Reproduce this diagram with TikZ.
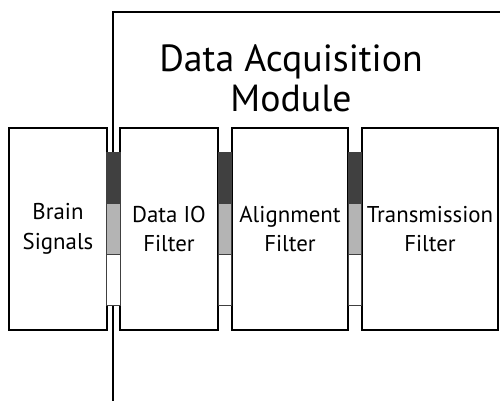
\documentclass[tikz,border=0pt]{standalone}
\usepackage{fontspec}
\setmainfont{PT Sans}
\usetikzlibrary{positioning,calc}
\definecolor{portdark}{HTML}{404040}
\definecolor{portlight}{HTML}{B4B4B4}
\tikzset{
    filterbox/.style={draw,line width=1.1pt,minimum height=4.04cm,align=center,inner sep=0pt,font=\fontsize{13}{17}\selectfont},
    port/.style={draw=black!75,line width=0.6pt,minimum width=0.27cm,minimum height=1.02cm,inner sep=0pt},
    title/.style={align=center,font=\fontsize{21.5}{22.7}\selectfont}
}

\begin{document}
\begin{tikzpicture}[x=0.02cm,y=-0.02cm]
    \useasboundingbox (0,0) rectangle (500,401);
    % module frame
    \coordinate (modbot) at (113,401);
    \coordinate (modtop) at (113,12);
    \coordinate (modright) at (500,12);
    \draw[line width=1.1pt] (modbot) -- (modtop) -- (modright);
    \node[title] (modlabel) at (291,78) {Data Acquisition\\Module};
    % filters
    \node[filterbox,minimum width=1.96cm] (brain) at (58,229) {Brain\\Signals};
    \node[filterbox,minimum width=1.96cm] (dataio) at (169,229) {Data IO\\Filter};
    \node[filterbox,minimum width=2.32cm] (align) at (290,229) {Alignment\\Filter};
    \node[filterbox,minimum width=2.72cm] (trans) at (430,229) {Transmission\\Filter};
    % ports between the filters
    \foreach \a/\b in {brain/dataio,dataio/align,align/trans}{
        \coordinate (mid) at ($(\a.east)!0.5!(\b.west)$);
        \node[port,fill=portdark] (\a-hi) at ($(mid)+(0,-51)$) {};
        \node[port,fill=portlight] (\a-mid) at (mid) {};
        \node[port,fill=white] (\a-lo) at ($(mid)+(0,51)$) {};
    }
\end{tikzpicture}
\end{document}
